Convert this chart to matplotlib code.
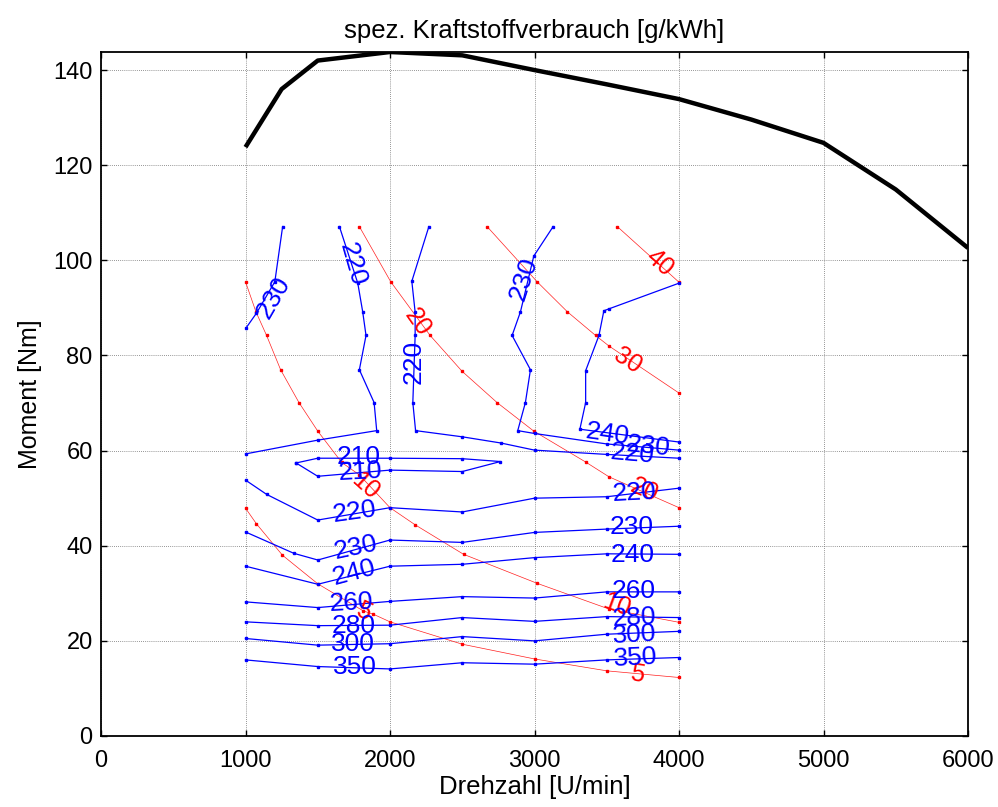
import matplotlib
matplotlib.use("Agg")
import matplotlib.pyplot as plt
import numpy as np

plt.rcParams['font.family'] = ['Liberation Sans', 'DejaVu Sans']

# full load curve (Volllast)
vl_rpm = [1000, 1250, 1500, 2000, 2500, 3000, 3500, 4000, 4500, 5000, 5500, 6000]
vl_nm = [123.8, 136.0, 142.0, 143.8, 143.1, 140.0, 137.0, 133.9, 129.6, 124.7, 114.9, 102.6]

# be contours [g/kWh] as (rpm, Nm) polylines
be_lines = {
    "230a": ([1257, 1203, 1076, 1002], [107.1, 95.5, 88.9, 85.7]),
    "220a": ([1650, 1777, 1811, 1834, 1788, 1890, 1908, 1500, 1000],
             [107.1, 95.2, 89.2, 84.2, 77.0, 70.1, 64.2, 62.2, 59.3]),
    "220b": ([2269, 2151, 2174, 2174, 2158, 2177, 2500, 2767, 3000, 3500, 4000],
             [107.1, 95.6, 89.1, 84.2, 70.1, 64.2, 62.9, 61.6, 60.1, 59.2, 58.4]),
    "230b": ([3129, 2995, 2903, 2845, 2972, 2937, 2884, 3000, 3500, 4000],
             [107.1, 100.9, 89.2, 84.2, 77.0, 70.1, 64.2, 63.6, 61.4, 60.1]),
    "240a": ([4000, 3515, 3480, 3446, 3354, 3354, 3314, 4000],
             [95.2, 89.8, 89.4, 84.2, 76.8, 70.1, 64.5, 61.8]),
    "210": ([1350, 1500, 2000, 2500, 2764, 2500, 2000, 1500, 1350],
            [57.4, 58.4, 58.4, 58.3, 57.7, 55.6, 55.9, 54.6, 57.4]),
    "220c": ([1000, 1146, 1500, 2000, 2500, 3000, 3500, 4000],
             [53.8, 50.8, 45.4, 48.0, 47.1, 50.0, 50.3, 52.1]),
    "230c": ([1000, 1335, 1500, 2000, 2500, 3000, 3500, 4000],
             [42.9, 38.4, 37.0, 41.2, 40.7, 42.8, 43.5, 44.1]),
    "240b": ([1000, 1500, 2000, 2500, 3000, 3500, 4000],
             [35.7, 31.9, 35.7, 36.1, 37.5, 38.3, 38.2]),
    "260": ([1000, 1500, 2000, 2500, 3000, 3500, 4000],
            [28.2, 27.0, 28.3, 29.3, 29.0, 30.3, 30.3]),
    "280": ([1000, 1500, 2000, 2500, 3000, 3500, 4000],
            [24.0, 23.2, 23.3, 24.9, 24.1, 25.1, 24.9]),
    "300": ([1000, 1500, 2000, 2500, 3000, 3500, 4000],
            [20.5, 19.1, 19.4, 20.9, 20.0, 21.4, 22.0]),
    "350": ([1000, 1500, 2000, 2500, 3000, 3500, 4000],
            [16.0, 14.6, 14.1, 15.4, 15.1, 16.0, 16.5]),
}

# power lines [kW]
p_lines = {
    5: ([1000, 1076, 1256, 1500, 1815, 1885, 2000, 2500, 3000, 3500, 4000],
        [47.9, 44.6, 38.0, 32.0, 26.3, 25.6, 24.0, 19.3, 16.2, 13.7, 12.3]),
    10: ([1000, 1072, 1146, 1243, 1370, 1500, 1666, 1788, 2000, 2174, 2509, 3018, 3515, 4000],
         [95.5, 89.2, 84.2, 77.0, 70.1, 64.1, 57.5, 54.9, 48.0, 44.4, 38.2, 32.1, 26.7, 23.9]),
    20: ([1788, 2005, 2278, 2498, 2741, 2995, 3354, 3515, 4000],
         [107.1, 95.5, 84.2, 76.7, 70.1, 64.1, 57.6, 54.5, 48.0]),
    30: ([2672, 3018, 3227, 3423, 3515, 4000],
         [107.1, 95.5, 89.2, 84.2, 82.0, 72.1]),
    40: ([3573, 4000], [107.1, 95.4]),
}

# labels: (text, rpm, Nm, rotation)
be_labels = [
    ("230", 1195, 92.2, 60), ("220", 1740, 99.2, -74), ("220", 2163, 78.6, 90),
    ("230", 2926, 96.1, 72), ("240", 3503, 63.4, -8), ("230", 3785, 61.0, -6),
    ("220", 3677, 59.3, -5),
    ("210", 1782, 58.7, 0), ("210", 1793, 55.6, 3), ("220", 1751, 47.1, 8),
    ("230", 1763, 39.7, 12), ("240", 1751, 34.4, 15), ("260", 1735, 28.0, 3),
    ("280", 1746, 23.1, 0), ("300", 1746, 19.3, 0), ("350", 1758, 14.6, 0),
    ("220", 3689, 51.2, 3), ("230", 3673, 43.9, 0), ("240", 3677, 38.1, 0),
    ("260", 3689, 30.4, 0), ("280", 3689, 24.9, 3), ("300", 3689, 21.2, 3),
    ("350", 3700, 16.5, 3),
]
p_labels = [
    ("40", 3867, 99.4, -41), ("30", 3647, 78.9, -33), ("20", 2190, 87.0, -55),
    ("20", 3758, 51.6, -24), ("10", 1828, 52.6, -42), ("10", 3567, 27.6, -20),
    ("5", 1815, 26.1, -25), ("5", 3712, 13.0, -10),
]

fig = plt.figure(figsize=(9.98, 8.07), dpi=100)
ax = fig.add_axes([101 / 998, 71 / 807, 867 / 998, 684 / 807])

for key, (xs, ys) in p_lines.items():
    ax.plot(xs, ys, color='#ff2020', lw=0.5, marker='s', ms=1.6, mec='red', mfc='red', zorder=2)

for key, (xs, ys) in be_lines.items():
    ax.plot(xs, ys, color='blue', lw=0.9, marker='s', ms=1.6, zorder=3)

ax.plot(vl_rpm, vl_nm, color='black', lw=3.2, zorder=4, solid_capstyle='butt')

for t, x, y, r in p_labels:
    ax.text(x, y, t, color='red', fontsize=18, rotation=r, ha='center', va='center',
            rotation_mode='anchor', zorder=5)
for t, x, y, r in be_labels:
    ax.text(x, y, t, color='blue', fontsize=19, rotation=r, ha='center', va='center',
            rotation_mode='anchor', zorder=6)

ax.set_xlim(0, 6000)
ax.set_ylim(0, 143.8)
ax.set_xticks(np.arange(0, 6001, 1000))
ax.set_yticks(np.arange(0, 141, 20))
ax.grid(True, color='0.45', linestyle=(0, (1, 1.5)), lw=0.6)
ax.set_axisbelow(True)
ax.tick_params(direction='in', length=4, width=1, top=True, right=True, labelsize=17)
ax.tick_params(axis='x', pad=10)
ax.tick_params(axis='y', pad=6)
for s in ax.spines.values():
    s.set_linewidth(1.3)

ax.set_title("spez. Kraftstoffverbrauch [g/kWh]", fontsize=18.5, pad=10)
ax.set_xlabel("Drehzahl [U/min]", fontsize=18.5, labelpad=2)
ax.set_ylabel("Moment [Nm]", fontsize=18, labelpad=8)

fig.savefig("out.png", dpi=100)
